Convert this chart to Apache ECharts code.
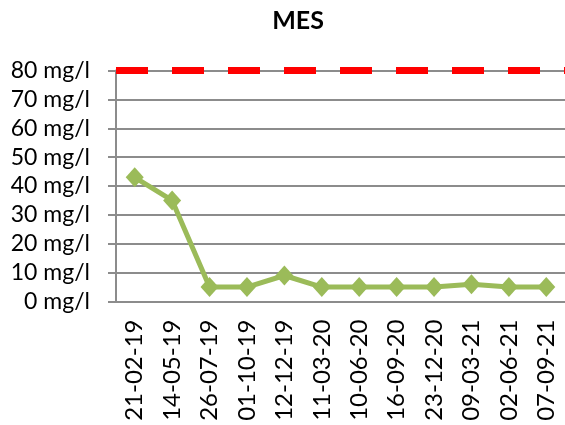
<!DOCTYPE html>
<html>
<head>
<meta charset="utf-8">
<script src="https://cdn.jsdelivr.net/npm/echarts@6/dist/echarts.min.js"></script>
<style>html,body{margin:0;padding:0;background:#fff}#c{width:565px;height:425px}</style>
</head>
<body>
<div id="c"></div>
<script>
const title = 'MES';
const categories = ['21-02-19','14-05-19','26-07-19','01-10-19','12-12-19','11-03-20','10-06-20','16-09-20','23-12-20','09-03-21','02-06-21','07-09-21'];
const mesValues = [43, 35, 5, 5, 9, 5, 5, 5, 5, 6, 5, 5];
const limitValue = 80;
const yMin = 0, yMax = 80, yStep = 10;
const unit = ' mg/l';

const chart = echarts.init(document.getElementById('c'), null, {renderer: 'canvas'});
const gray = '#8c8c8c';
chart.setOption({
  animation: false,
  backgroundColor: '#fff',
  title: {
    text: title, left: 293, top: 3, textAlign: 'center',
    textStyle: {fontFamily: 'Lato', fontWeight: 'bold', fontSize: 25, color: '#000'}
  },
  grid: {left: 116, right: 0, top: 70.5, bottom: 123.5, containLabel: false},
  xAxis: {
    type: 'category', data: categories, boundaryGap: true,
    axisLine: {lineStyle: {color: gray, width: 2}},
    axisTick: {show: false},
    axisLabel: {rotate: 90, margin: 18, fontFamily: 'Lato', fontSize: 24, color: '#000', interval: 0}
  },
  yAxis: {
    type: 'value', min: yMin, max: yMax, interval: yStep,
    axisLine: {show: true, lineStyle: {color: gray, width: 2}},
    axisTick: {show: true, length: 8, lineStyle: {color: gray, width: 2}},
    splitLine: {lineStyle: {color: gray, width: 2}},
    axisLabel: {margin: 26, fontFamily: 'Lato', fontSize: 23, color: '#000', formatter: v => v + unit}
  },
  series: [{
    name: title, type: 'line', data: mesValues,
    lineStyle: {color: '#9BBB59', width: 5},
    itemStyle: {color: '#9BBB59'},
    symbol: 'diamond', symbolSize: [18, 20],
    markLine: {
      silent: true, symbol: 'none', label: {show: false},
      lineStyle: {color: '#ff0000', width: 7, type: [32, 24]},
      data: [{yAxis: limitValue}]
    }
  }]
});
</script>
</body>
</html>
